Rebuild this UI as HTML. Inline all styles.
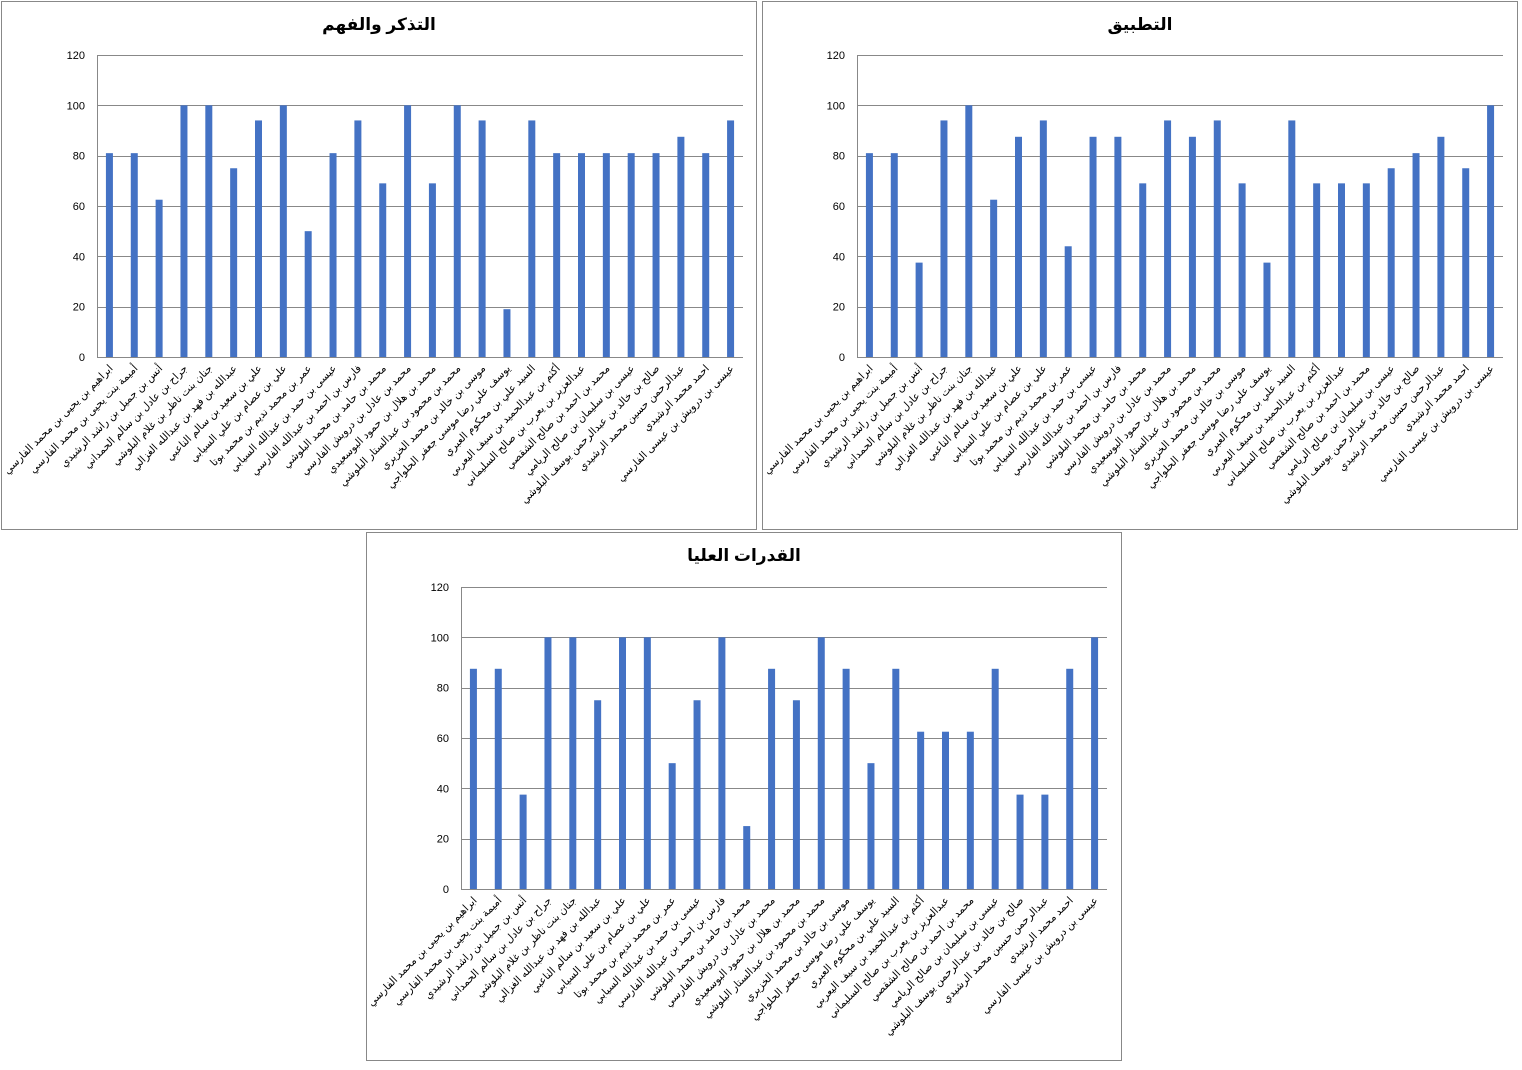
<!DOCTYPE html>
<html><head><meta charset="utf-8">
<style>
html,body{margin:0;padding:0;background:#fff;}
svg{display:block;}
text{font-family:"Liberation Sans","DejaVu Sans",sans-serif;}
</style></head>
<body>
<svg id="s" width="1522" height="1070" xmlns="http://www.w3.org/2000/svg"></svg>
<script>
var nm=["ابراهيم بن يحيى بن محمد الفارسي","أميمة بنت يحيى بن محمد الفارسي","أنس بن جميل بن راشد الرشيدي","جراح بن عادل بن سالم الحمداني","جنان بنت ناظر بن غلام البلوشي","عبدالله بن فهد بن عبدالله الغزالي","علي بن سعيد بن سالم الناعبي","علي بن عصام بن علي السيابي","عمر بن محمد نديم بن محمد بوتا","عيسى بن حمد بن عبدالله السيابي","فارس بن احمد بن عبدالله الفارسي","محمد بن حامد بن محمد البلوشي","محمد بن عادل بن درويش الفارسي","محمد بن هلال بن حمود البوسعيدي","محمد بن محمود بن عبدالستار البلوشي","موسى بن خالد بن محمد الخزيري","يوسف علي رضا موسى جعفر الحلواجي","السيد علي بن محكوم العبري","أكثم بن عبدالحميد بن سيف اليعربي","عبدالعزيز بن يعرب بن صالح السليماني","محمد بن احمد بن صالح الشقصي","نواف بن احمد بن سالم السيابي","عيسى بن سليمان بن صالح الريامي","صالح بن خالد بن عبدالرحمن يوسف البلوشي","عبدالرحمن حسين محمد الرشيدي","احمد محمد الرشيدي","عيسى بن درويش بن عيسى الفارسي"];
nm=nm.slice(0,25).concat([nm[26]]);
nm[24]="احمد محمد الرشيدي";nm[23]="عبدالرحمن حسين محمد الرشيدي";nm[22]="صالح بن خالد بن عبدالرحمن يوسف البلوشي";nm[21]="عيسى بن سليمان بن صالح الريامي";
var charts=[
 {t:"التذكر والفهم",bx:1,by:1,px:97,py:55,d:[81,81,62.5,100,100,75,94,100,50,81,94,69,100,69,100,94,19,94,81,81,81,81,81,87.5,81,94]},
 {t:"التطبيق",bx:762,by:1,px:857,py:55,d:[81,81,37.5,94,100,62.5,87.5,94,44,87.5,87.5,69,94,87.5,94,69,37.5,94,69,69,69,75,81,87.5,75,100]},
 {t:"القدرات العليا",bx:366,by:532,px:461,py:587,d:[87.5,87.5,37.5,100,100,75,100,100,50,75,100,25,87.5,75,100,87.5,50,87.5,62.5,62.5,62.5,87.5,37.5,37.5,87.5,100]}
];
var h="";
charts.forEach(function(c){
 h+='<rect x="'+(c.bx+0.5)+'" y="'+(c.by+0.5)+'" width="755" height="528" fill="#fff" stroke="#888"/>';
 h+='<text x="'+(c.bx+378)+'" y="'+(c.by+29)+'" text-anchor="middle" font-size="17" font-weight="bold">'+c.t+'</text>';
 var W=646,H=302;
 for(var i=0;i<=6;i++){var y=c.py+H-i*H/6;
  h+='<line x1="'+c.px+'" x2="'+(c.px+W)+'" y1="'+(Math.round(y)+0.5)+'" y2="'+(Math.round(y)+0.5)+'" stroke="#888"/>';
  h+='<text x="'+(c.px-12)+'" y="'+(y+4)+'" text-anchor="end" font-size="11">'+(i*20)+'</text>';}
 h+='<line x1="'+(c.px+0.5)+'" x2="'+(c.px+0.5)+'" y1="'+c.py+'" y2="'+(c.py+H)+'" stroke="#888"/>';
 var cw=W/26;
 c.d.forEach(function(v,i){var cx=c.px+cw*(i+0.5);var bh=v/120*H;
  h+='<rect x="'+(cx-3.5)+'" y="'+(c.py+H-bh)+'" width="7" height="'+bh+'" fill="#4472C4"/>';
  var tx=cx+4,ty=c.py+H+12;
  h+='<text x="'+tx+'" y="'+ty+'" text-anchor="end" font-size="10.5" transform="rotate(-45 '+tx+' '+ty+')">'+nm[i]+'</text>';
 });
});
document.getElementById("s").innerHTML=h;
</script>
</body></html>
